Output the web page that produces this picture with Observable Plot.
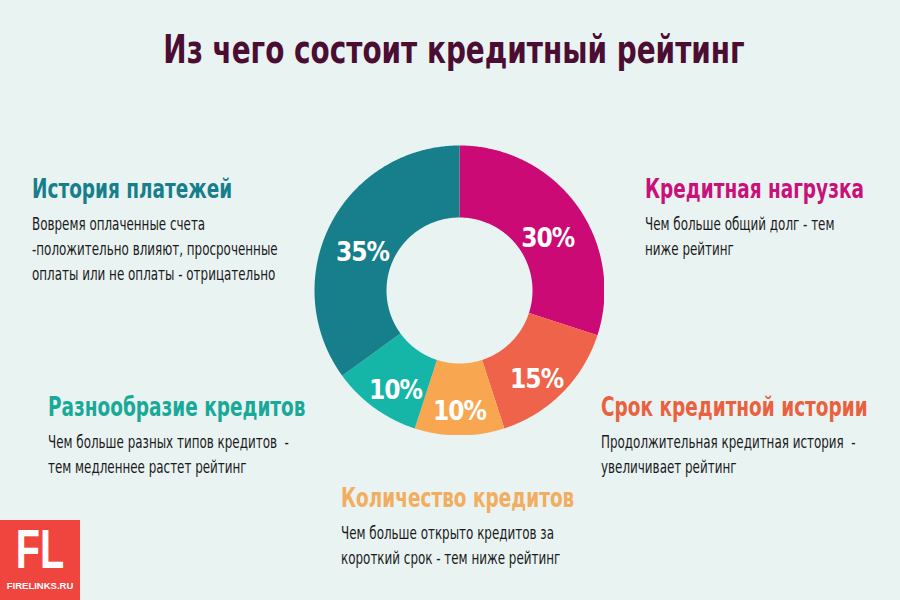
<!DOCTYPE html>
<html><head><meta charset="utf-8">
<script src="https://cdn.jsdelivr.net/npm/d3@7"></script>
<script src="https://cdn.jsdelivr.net/npm/@observablehq/plot@0.6"></script>
<style>
html,body{margin:0;padding:0;}
body{width:900px;height:600px;background:#e9f3f2;position:relative;overflow:hidden;
 font-family:"DejaVu Sans Condensed","DejaVu Sans",sans-serif;font-stretch:condensed;}
.t{position:absolute;white-space:nowrap;}
#title{left:4px;width:900px;text-align:center;top:28px;font-size:38.5px;line-height:44px;font-weight:bold;color:#4b0d32;transform:scaleX(0.805);transform-origin:50% 0;}
.h{font-weight:bold;font-size:26px;line-height:26px;transform:scaleX(0.79);transform-origin:0 0;}
.b{font-size:17px;line-height:25px;color:#1a1a1a;margin-top:9.5px;transform:scaleX(0.78);transform-origin:0 0;}
#chart{position:absolute;left:314px;top:145px;}
#logo{position:absolute;left:0;top:520px;width:80px;height:80px;background:#f0443f;color:#fff;text-align:center;font-family:"Liberation Sans","DejaVu Sans",sans-serif;font-weight:bold;}
#logo .fl{font-size:55px;line-height:55px;margin-top:2px;transform:scaleX(0.72);transform-origin:50% 0;}
#logo .site{font-size:9.5px;line-height:12px;margin-top:3px;}
</style></head>
<body>
<div id="title" class="t">Из чего состоит кредитный рейтинг</div>
<div id="chart"></div>
<div id="notes"></div>
<div id="logo"><div class="fl">FL</div><div class="site">FIRELINKS.RU</div></div>
<script>
// ---- data ----
const categories = ["Кредитная нагрузка", "Срок кредитной истории", "Количество кредитов", "Разнообразие кредитов", "История платежей"];
const shares = [30, 15, 10, 10, 35];
const descriptions = [
  ["Чем больше общий долг - тем", "ниже рейтинг"],
  ["Продолжительная кредитная история  -", "увеличивает рейтинг"],
  ["Чем больше открыто кредитов за", "короткий срок - тем ниже рейтинг"],
  ["Чем больше разных типов кредитов  -", "тем медленнее растет рейтинг"],
  ["Вовремя оплаченные счета", "-положительно влияют, просроченные", "оплаты или не оплаты - отрицательно"]
];
// ---- styles / layout ----
const sliceColors = ["#cc0a76", "#ef634a", "#f8a650", "#15b5a8", "#177f8b"];
const headColors = ["#c8127a", "#e9613f", "#f3ad5e", "#19a999", "#177f8b"];
const noteLayout = [
  {left: 645, top: 176},
  {left: 601, top: 394},
  {left: 341, top: 485},
  {left: 48, top: 394},
  {left: 32, top: 176}
];

// notes
const notes = document.getElementById("notes");
categories.forEach((c, i) => {
  const d = document.createElement("div");
  d.className = "t";
  d.style.left = noteLayout[i].left + "px";
  d.style.top = noteLayout[i].top + "px";
  const h = document.createElement("div");
  h.className = "h"; h.textContent = c; h.style.color = headColors[i];
  d.appendChild(h);
  const b = document.createElement("div");
  b.className = "b";
  b.innerHTML = descriptions[i].map(s => s.replace(/ /g, "&nbsp;")).join("<br>");
  d.appendChild(b);
  notes.appendChild(d);
});

// donut
const innerRatio = 73 / 145;
const pie = d3.pie().sort(null).value(d => d)(shares);
function ring(a0, a1) {
  const n = Math.max(2, Math.ceil((a1 - a0) / 0.01));
  const pts = [];
  for (let i = 0; i <= n; i++) { const a = a0 + (a1 - a0) * i / n; pts.push([Math.sin(a), -Math.cos(a)]); }
  for (let i = n; i >= 0; i--) { const a = a0 + (a1 - a0) * i / n; pts.push([innerRatio * Math.sin(a), -innerRatio * Math.cos(a)]); }
  pts.push(pts[0]);
  return pts;
}
const features = pie.map((p, i) => ({
  type: "Feature",
  properties: {category: categories[i], share: shares[i]},
  geometry: {type: "Polygon", coordinates: [ring(p.startAngle, p.endAngle)]}
}));
const labelR = (1 + innerRatio) / 2;
const labels = pie.map((p, i) => {
  const a = (p.startAngle + p.endAngle) / 2;
  return {x: labelR * Math.sin(a), y: -labelR * Math.cos(a), text: shares[i] + "%"};
});
const frame = {type: "Polygon", coordinates: [[[-1, -1], [1, -1], [1, 1], [-1, 1], [-1, -1]]]};

const chart = Plot.plot({
  width: 290, height: 290, margin: 0,
  style: {background: "transparent", fontFamily: "'DejaVu Sans Condensed','DejaVu Sans',sans-serif", letterSpacing: "-1px"},
  projection: {type: "identity", domain: frame},
  color: {domain: categories, range: sliceColors},
  marks: [
    Plot.geo(features, {fill: d => d.properties.category}),
    Plot.text(labels, {x: "x", y: "y", text: "text", dy: 12, fill: "white", fontSize: 26, fontWeight: "bold"})
  ]
});
document.getElementById("chart").appendChild(chart);
</script>
</body></html>
